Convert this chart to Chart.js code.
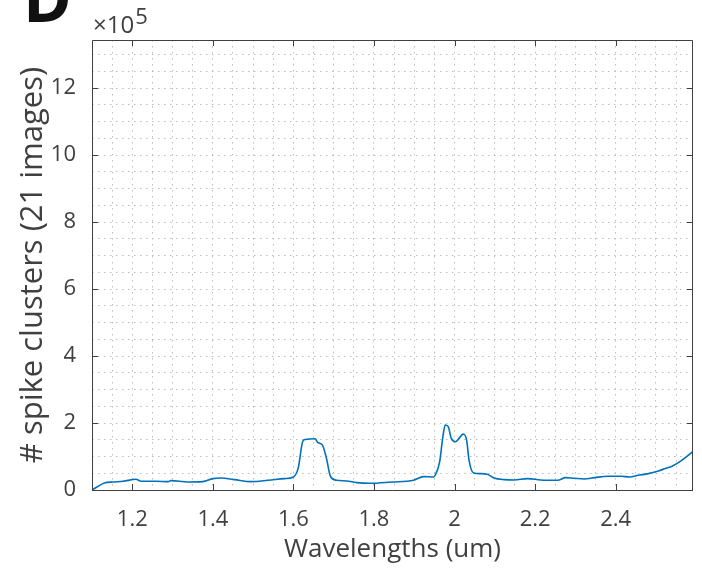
<!DOCTYPE html>
<html>
<head>
<meta charset="utf-8">
<script src="https://cdn.jsdelivr.net/npm/chart.js@4.4.1/dist/chart.umd.min.js"></script>
<style>
  html, body { margin: 0; padding: 0; background: #ffffff; }
  #wrap { width: 702px; height: 574px; }
</style>
</head>
<body>
<div id="wrap"><canvas id="c" width="702" height="574"></canvas></div>
<script>
// ---- data ----
const wavelengths = [
  1.100, 1.131, 1.152, 1.177, 1.209, 1.222, 1.260, 1.289, 1.296, 1.338,
  1.375, 1.400, 1.420, 1.454, 1.495, 1.537, 1.578, 1.600, 1.612, 1.623,
  1.629, 1.654, 1.660, 1.672, 1.682, 1.692, 1.707, 1.732, 1.757, 1.790,
  1.844, 1.898, 1.923, 1.948, 1.952, 1.963, 1.971, 1.977, 1.984, 1.992,
  2.002, 2.013, 2.021, 2.030, 2.036, 2.047, 2.065, 2.081, 2.098, 2.123,
  2.148, 2.181, 2.214, 2.256, 2.276, 2.297, 2.322, 2.348, 2.381, 2.414,
  2.435, 2.456, 2.481, 2.506, 2.523, 2.540, 2.565, 2.592
];
const spikeClusters = [
  0, 21000, 24000, 26000, 32000, 26000, 26000, 25000, 28000, 24000,
  25000, 34000, 36000, 31000, 25000, 29000, 34000, 39000, 66000, 145000,
  151000, 153000, 142000, 134000, 95000, 41000, 29000, 27000, 22000, 20000,
  24000, 29000, 40000, 39000, 44000, 84000, 159000, 194000, 190000, 154000,
  144000, 157000, 167000, 149000, 89000, 51000, 49000, 47000, 36000, 31000,
  30000, 34000, 30000, 29000, 37000, 35000, 33000, 37000, 41000, 41000,
  39000, 44000, 49000, 57000, 64000, 71000, 89000, 115000
];
const xTickLabels = [1.2, 1.4, 1.6, 1.8, 2.0, 2.2, 2.4];
const yTickLabels = [0, 2, 4, 6, 8, 10, 12];   // in units of 10^5
const xMinorStep = 0.05;
const yMinorStep = 0.5;                          // in units of 10^5
const xLimits = [1.1, 2.592];
const yLimits = [0, 13.44];                      // in units of 10^5
const yExponent = 5;
const panelLetter = 'D';
const xTitle = 'Wavelengths (um)';
const yTitle = '# spike clusters (21 images)';

const SCALE = Math.pow(10, yExponent);
const FONT = "'Open Sans', 'Noto Sans', sans-serif";
const TEXT = '#404040';
const AXIS = '#404040';
const GRID = '#bdbdbd';

function near(a, b) { return Math.abs(a - b) < 1e-6; }

const decorations = {
  id: 'decorations',
  afterDraw(chart) {
    const { ctx, chartArea, scales } = chart;
    const { left, right, top, bottom } = chartArea;
    const xs = scales.x, ys = scales.y;
    ctx.save();
    ctx.strokeStyle = AXIS;
    ctx.lineWidth = 1;
    // box
    ctx.beginPath();
    ctx.rect(Math.round(left) + 0.5, Math.round(top) + 0.5,
             Math.round(right) - Math.round(left) - 1, Math.round(bottom) - Math.round(top));
    ctx.stroke();
    // inward ticks
    const tl = 6;
    ctx.beginPath();
    xTickLabels.forEach(v => {
      const px = Math.round(xs.getPixelForValue(v)) + 0.5;
      ctx.moveTo(px, bottom); ctx.lineTo(px, bottom - tl);
      ctx.moveTo(px, top); ctx.lineTo(px, top + tl);
    });
    yTickLabels.forEach(v => {
      const py = Math.round(ys.getPixelForValue(v * SCALE)) + 0.5;
      ctx.moveTo(left, py); ctx.lineTo(left + tl, py);
      ctx.moveTo(right, py); ctx.lineTo(right - tl, py);
    });
    ctx.stroke();
    // exponent label
    ctx.fillStyle = TEXT;
    ctx.textBaseline = 'alphabetic';
    ctx.textAlign = 'left';
    ctx.font = '24px ' + FONT;
    ctx.fillText('\u00d710', left + 1, 33);
    const w = ctx.measureText('\u00d710').width;
    ctx.font = '22px ' + FONT;
    ctx.fillText(String(yExponent), left + 2 + w, 24);
    // panel letter
    ctx.fillStyle = '#111111';
    ctx.font = 'bold 66px ' + FONT;
    ctx.fillText(panelLetter, 23, 22);
    ctx.restore();
  }
};

const points = wavelengths.map((w, i) => ({ x: w, y: spikeClusters[i] }));

new Chart(document.getElementById('c'), {
  type: 'line',
  data: {
    datasets: [{
      data: points,
      borderColor: '#0072BD',
      borderWidth: 1.6,
      pointRadius: 0,
      cubicInterpolationMode: 'monotone',
      fill: false
    }]
  },
  options: {
    responsive: false,
    animation: false,
    devicePixelRatio: 1,
    layout: { padding: { left: 0, top: 40, right: 9, bottom: 0 } },
    plugins: { legend: { display: false }, tooltip: { enabled: false } },
    scales: {
      x: {
        type: 'linear',
        min: xLimits[0],
        max: xLimits[1],
        afterBuildTicks(scale) {
          const t = [];
          const n0 = Math.ceil(xLimits[0] / xMinorStep + 1e-6);
          const n1 = Math.floor(xLimits[1] / xMinorStep - 1e-6);
          for (let n = n0; n <= n1; n++) t.push({ value: Math.round(n * xMinorStep * 1000) / 1000 });
          scale.ticks = t;
        },
        afterFit(scale) { scale.height = 84; },
        ticks: {
          autoSkip: false,
          maxRotation: 0,
          padding: 17,
          color: TEXT,
          font: { family: FONT, size: 22 },
          callback(v) {
            const hit = xTickLabels.find(l => near(l, v));
            return hit === undefined ? '' : String(hit);
          }
        },
        grid: { color: GRID, lineWidth: 1, drawTicks: false },
        border: { display: false, dash: [1.5, 4.5] },
        title: {
          display: true, text: xTitle, color: TEXT,
          font: { family: FONT, size: 26 },
          padding: { top: 0, bottom: 9 }
        }
      },
      y: {
        type: 'linear',
        min: yLimits[0] * SCALE,
        max: yLimits[1] * SCALE,
        afterBuildTicks(scale) {
          const t = [];
          const n1 = Math.floor(yLimits[1] / yMinorStep - 1e-6);
          for (let n = 0; n <= n1; n++) t.push({ value: n * yMinorStep * SCALE });
          scale.ticks = t;
        },
        afterFit(scale) { scale.width = 92; },
        ticks: {
          autoSkip: false,
          padding: 16,
          color: TEXT,
          font: { family: FONT, size: 22 },
          callback(v) {
            const hit = yTickLabels.find(l => near(l * SCALE, v));
            return hit === undefined ? '' : String(hit);
          }
        },
        grid: { color: GRID, lineWidth: 1, drawTicks: false },
        border: { display: false, dash: [1.5, 4.5] },
        title: {
          display: true, text: yTitle, color: TEXT,
          font: { family: FONT, size: 31 },
          padding: { top: 15, bottom: 0 }
        }
      }
    }
  },
  plugins: [decorations]
});
</script>
</body>
</html>
